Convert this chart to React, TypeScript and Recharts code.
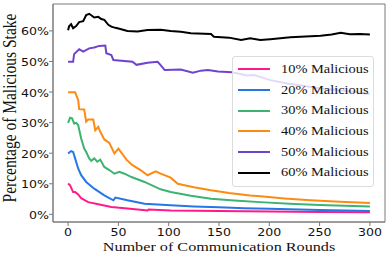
import { LineChart, Line, XAxis, YAxis, Legend, Label, ReferenceArea } from 'recharts'

// rounds / stake (%), per series
const rounds10 = [0, 2, 5, 7, 10, 13, 20, 30, 43, 59, 79, 80, 102, 150, 200, 250, 300]
const stake10 = [10.1, 9.5, 7.3, 7.3, 6.5, 5.3, 4.0, 3.3, 2.4, 1.9, 1.3, 1.6, 1.3, 1.1, 0.9, 0.8, 0.7]

const rounds20 = [0, 3, 5, 7, 10, 13, 18, 26, 36, 45, 47, 59, 76, 102, 125, 150, 175, 200, 250, 300]
const stake20 = [19.9, 20.7, 20.4, 18.3, 15.0, 12.8, 10.6, 8.4, 6.2, 4.6, 5.5, 4.6, 3.5, 3.0, 2.6, 2.3, 2.0, 1.8, 1.4, 1.1]

const rounds30 = [0, 2, 4, 6, 8, 10, 13, 16, 18, 21, 23, 26, 29, 32, 36, 41, 46, 51, 56, 63, 76, 92, 102, 122, 142, 165, 191, 220, 250, 275, 300]
const stake30 = [29.9, 31.6, 31.4, 29.7, 29.9, 29.2, 24.8, 21.5, 20.4, 18.3, 17.5, 18.3, 17.2, 17.9, 15.5, 14.5, 13.3, 13.9, 13.3, 12.2, 10.6, 8.2, 7.3, 6.1, 5.1, 4.5, 4.0, 3.5, 3.1, 2.8, 2.6]

const rounds40 = [0, 7, 10, 11, 16, 18, 20, 25, 27, 30, 32, 36, 41, 46, 50, 58, 64, 72, 79, 87, 92, 102, 109, 125, 142, 160, 181, 191, 215, 241, 270, 300]
const stake40 = [39.9, 39.9, 37.4, 34.4, 34.3, 30.3, 31.0, 31.0, 27.5, 28.6, 27.0, 24.5, 23.4, 19.9, 21.5, 17.9, 16.1, 14.5, 12.8, 14.1, 13.3, 12.0, 10.0, 8.9, 7.9, 7.0, 6.2, 5.9, 5.2, 4.6, 4.1, 3.7]

const rounds50 = [0, 5, 6, 11, 15, 21, 26, 31, 37, 38, 43, 45, 64, 68, 79, 89, 92, 96, 112, 124, 132, 139, 149, 163, 178, 185, 201, 218, 235, 251, 268, 284, 300]
const stake50 = [49.9, 49.9, 52.4, 54.0, 53.2, 54.3, 54.6, 55.1, 55.2, 52.7, 52.1, 50.5, 49.9, 48.9, 49.6, 49.9, 48.8, 47.2, 47.4, 46.3, 47.0, 47.2, 46.7, 46.5, 45.4, 45.6, 43.9, 42.8, 42.0, 41.2, 40.6, 40.1, 39.3]

const rounds60 = [0, 1, 3, 5, 8, 11, 15, 18, 21, 26, 30, 33, 36, 40, 43, 47, 51, 59, 69, 79, 92, 102, 112, 122, 142, 145, 160, 172, 181, 191, 201, 221, 251, 262, 271, 280, 290, 300]
const stake60 = [60.2, 61.5, 62.2, 60.9, 61.6, 62.9, 63.2, 65.2, 65.6, 64.4, 64.6, 63.9, 63.6, 62.0, 61.4, 61.0, 60.7, 60.0, 59.8, 60.3, 60.4, 60.0, 59.7, 59.2, 59.0, 58.1, 57.8, 57.0, 57.6, 57.0, 57.3, 57.9, 58.4, 58.8, 59.4, 58.9, 59.0, 58.8]

const xTicks = [0, 50, 100, 150, 200, 250, 300]
const yTicks = [0, 10, 20, 30, 40, 50, 60]

const series = [
  { name: '10% Malicious', color: '#ff1a8c', rounds: rounds10, stake: stake10 },
  { name: '20% Malicious', color: '#2577e6', rounds: rounds20, stake: stake20 },
  { name: '30% Malicious', color: '#3cb371', rounds: rounds30, stake: stake30 },
  { name: '40% Malicious', color: '#ff8a12', rounds: rounds40, stake: stake40 },
  { name: '50% Malicious', color: '#7043cf', rounds: rounds50, stake: stake50 },
  { name: '60% Malicious', color: '#000000', rounds: rounds60, stake: stake60 },
]

const frame = '#7a7a7a'
const stretch = 1.2
const serif = "'Liberation Serif', 'Times New Roman', Times, serif"

const XTick = (props: any) => {
  const { x, y, payload } = props
  return (
    <g transform={`translate(${x},${y + 8}) scale(${stretch},1)`}>
      <text textAnchor="middle" fontSize={10.5} fill="#111" fontFamily="DejaVu Sans">
        {payload.value}
      </text>
    </g>
  )
}

const YTick = (props: any) => {
  const { x, y, payload } = props
  return (
    <g transform={`translate(${x},${y + 4.5}) scale(${stretch},1)`}>
      <text textAnchor="end" fontSize={10.5} fill="#111" fontFamily="DejaVu Sans">
        {`${payload.value}%`}
      </text>
    </g>
  )
}

const XTitle = (props: any) => {
  const vb = props.viewBox
  return (
    <g transform={`translate(${vb.x + vb.width / 2},${vb.y + 28.5}) scale(1.2,1)`}>
      <text textAnchor="middle" fontSize={13.5} fill="#111" style={{ fontFamily: serif }}>
        Number of Communication Rounds
      </text>
    </g>
  )
}

const YTitle = (props: any) => {
  const vb = props.viewBox
  return (
    <g transform={`translate(${vb.x + 16},${vb.y + vb.height / 2 - 5}) scale(1.2,1) rotate(-90)`}>
      <text textAnchor="middle" fontSize={15.5} fill="#111" style={{ fontFamily: serif }}>
        Percentage of Malicious Stake
      </text>
    </g>
  )
}

const LegendBox = (props: any) => {
  const items = props.payload || []
  return (
    <div
      style={{
        width: 140,
        padding: '2px 0 3px 0',
        background: 'rgba(255,255,255,0.8)',
        border: '1px solid #dcdcdc',
        borderRadius: 3,
        boxSizing: 'content-box',
      }}
    >
      {items.map((it: any) => (
        <div key={it.value} style={{ height: 20.7, display: 'flex', alignItems: 'center' }}>
          <div style={{ marginLeft: 5, width: 32, height: 2, background: it.color }} />
          <span
            style={{
              marginLeft: 11,
              display: 'inline-block',
              transform: `scale(${stretch},1)`,
              transformOrigin: 'left center',
              fontFamily: serif,
              fontSize: 12,
              color: '#111',
              whiteSpace: 'nowrap',
            }}
          >
            {it.value}
          </span>
        </div>
      ))}
    </div>
  )
}

export default function App() {
  return (
    <div style={{ position: 'absolute', left: 0, top: 0, background: '#fff' }}>
      <LineChart width={390} height={260} margin={{ top: 4, right: 5, bottom: 0, left: 0 }}>
        <XAxis
          type="number"
          dataKey="round"
          domain={[-15, 315]}
          ticks={xTicks}
          height={38}
          tick={<XTick />}
          tickSize={4}
          tickMargin={2}
          tickLine={{ stroke: frame }}
          axisLine={{ stroke: frame }}
          allowDuplicatedCategory={false}
        >
          <Label content={<XTitle />} />
        </XAxis>
        <YAxis
          type="number"
          domain={[-2.5, 68.8]}
          ticks={yTicks}
          width={53}
          tick={<YTick />}
          tickSize={4}
          tickMargin={0}
          tickLine={{ stroke: frame }}
          axisLine={{ stroke: frame }}
        >
          <Label content={<YTitle />} />
        </YAxis>
        <ReferenceArea x1={-15} x2={315} y1={-2.5} y2={68.8} fill="none" stroke={frame} strokeWidth={1} />
        {series.map((s) => (
          <Line
            key={s.name}
            name={s.name}
            data={s.rounds.map((r, i) => ({ round: r, stake: s.stake[i] }))}
            dataKey="stake"
            type="linear"
            stroke={s.color}
            strokeWidth={2}
            dot={false}
            isAnimationActive={false}
          />
        ))}
        <Legend
          layout="horizontal"
          verticalAlign="middle"
          align="center"
          content={<LegendBox />}
          wrapperStyle={{ left: 232, top: 56, width: 142 }}
        />
      </LineChart>
    </div>
  )
}
